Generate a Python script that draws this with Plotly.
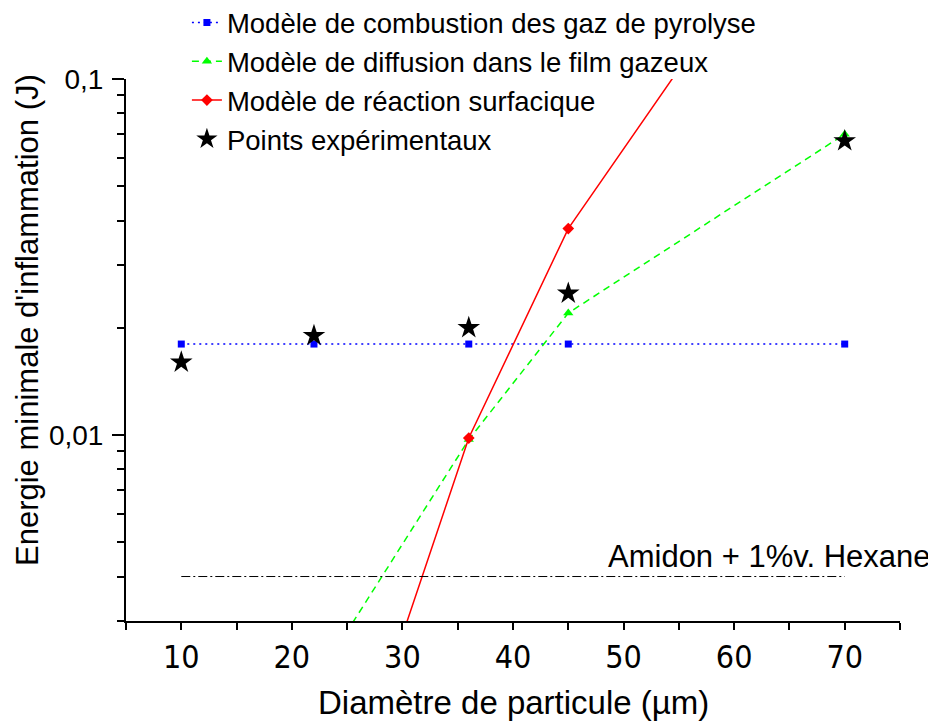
import plotly.graph_objects as go
import math

# ---------------- data ----------------
x_model = [10, 22, 36, 45, 70]
pyrolyse = [0.018, 0.018, 0.018, 0.018, 0.018]

x_diff = [22, 36, 45, 70]
diffusion = [0.002, 0.0097, 0.022, 0.07]

x_surf = [22, 36, 45, 70]
surfacique = [0.0005, 0.0098, 0.038, 0.5]

x_exp = [10, 22, 36, 45, 70]
experimental = [0.016, 0.019, 0.020, 0.025, 0.067]

x_hexane = [10, 70]
hexane = [0.004, 0.004]

y_major = [0.01, 0.1]
y_major_text = ["0,01", "0,1"]
y_minor = [0.003, 0.004, 0.005, 0.006, 0.007, 0.008, 0.009,
           0.02, 0.03, 0.04, 0.05, 0.06, 0.07, 0.08, 0.09]
x_ticks = [10, 20, 30, 40, 50, 60, 70]

FONT = "Liberation Sans, Arial, sans-serif"
NARROW = "Liberation Sans Narrow, Arial Narrow, DejaVu Sans Condensed, sans-serif"

fig = go.Figure()

fig.add_trace(go.Scatter(
    x=x_model, y=pyrolyse, mode="lines+markers",
    name="Modèle de combustion des gaz de pyrolyse",
    line=dict(color="#0000ff", width=1.5, dash="2px,4px"),
    marker=dict(symbol="square", size=7, color="#0000ff"),
))
fig.add_trace(go.Scatter(
    x=x_diff, y=diffusion, mode="lines+markers",
    name="Modèle de diffusion dans le film gazeux",
    line=dict(color="#00ff00", width=1.5, dash="7px,5px"),
    marker=dict(symbol="triangle-up", size=9, color="#00ff00"),
))
fig.add_trace(go.Scatter(
    x=x_surf, y=surfacique, mode="lines+markers",
    name="Modèle de réaction surfacique",
    line=dict(color="#ff0000", width=1.5),
    marker=dict(symbol="diamond", size=9, color="#ff0000"),
))
fig.add_trace(go.Scatter(
    x=x_exp, y=experimental, mode="markers",
    name="Points expérimentaux",
    marker=dict(symbol="star", size=17, color="black"),
))
fig.add_trace(go.Scatter(
    x=x_hexane, y=hexane, mode="lines", showlegend=False,
    line=dict(color="black", width=1, dash="9px,3px,2px,3px"),
))

fig.add_annotation(
    text="Amidon + 1%v. Hexane", xref="paper", yref="y",
    x=1.042, y=math.log10(hexane[0]), xanchor="right", yanchor="bottom",
    yshift=1, showarrow=False, font=dict(family=FONT, size=31, color="black"),
)
fig.add_annotation(
    text="Energie minimale d'inflammation (J)", xref="paper", yref="paper",
    x=-0.1266, y=0.5554, textangle=-90, xanchor="center", yanchor="middle",
    showarrow=False, font=dict(family=FONT, size=31, color="black"),
)
fig.add_annotation(
    text="Diamètre de particule (µm)", xref="paper", yref="paper",
    x=0.5, y=-0.151, xanchor="center", yanchor="middle",
    showarrow=False, font=dict(family=FONT, size=33, color="black"),
)

# page body adds an 8px offset; compensate so the plot lands where the reference has it
fig.update_layout(
    width=928, height=714,
    margin=dict(l=118, r=36, t=71, b=101, autoexpand=False),
    paper_bgcolor="white", plot_bgcolor="white",
    font=dict(family=FONT, color="black"),
    showlegend=True,
    legend=dict(
        x=0.0787, y=1.149, xanchor="left", yanchor="top",
        font=dict(family=FONT, size=27.5, color="black"),
        bgcolor="rgba(0,0,0,0)", borderwidth=0,
    ),
    xaxis=dict(
        range=[5, 75], tickvals=x_ticks, ticktext=[str(v) for v in x_ticks],
        ticks="outside", ticklen=7, tickwidth=2, tickcolor="black",
        showline=True, linewidth=2, linecolor="black",
        showgrid=False, zeroline=False,
        tickfont=dict(family=NARROW, size=32, color="black"),
        minor=dict(dtick=5, tick0=5, ticks="outside", ticklen=7, tickwidth=2,
                   tickcolor="black", showgrid=False),
    ),
    yaxis=dict(
        type="log", range=[math.log10(0.003), -1],
        tickvals=y_major, ticktext=y_major_text,
        ticks="outside", ticklen=12, tickwidth=2, tickcolor="black",
        ticklabelstandoff=3,
        showline=True, linewidth=2, linecolor="black",
        showgrid=False, zeroline=False,
        tickfont=dict(family=FONT, size=28, color="black"),
        minor=dict(tickvals=y_minor, ticks="outside", ticklen=7, tickwidth=2,
                   tickcolor="black", showgrid=False),
    ),
)

fig.write_html("out.html")
